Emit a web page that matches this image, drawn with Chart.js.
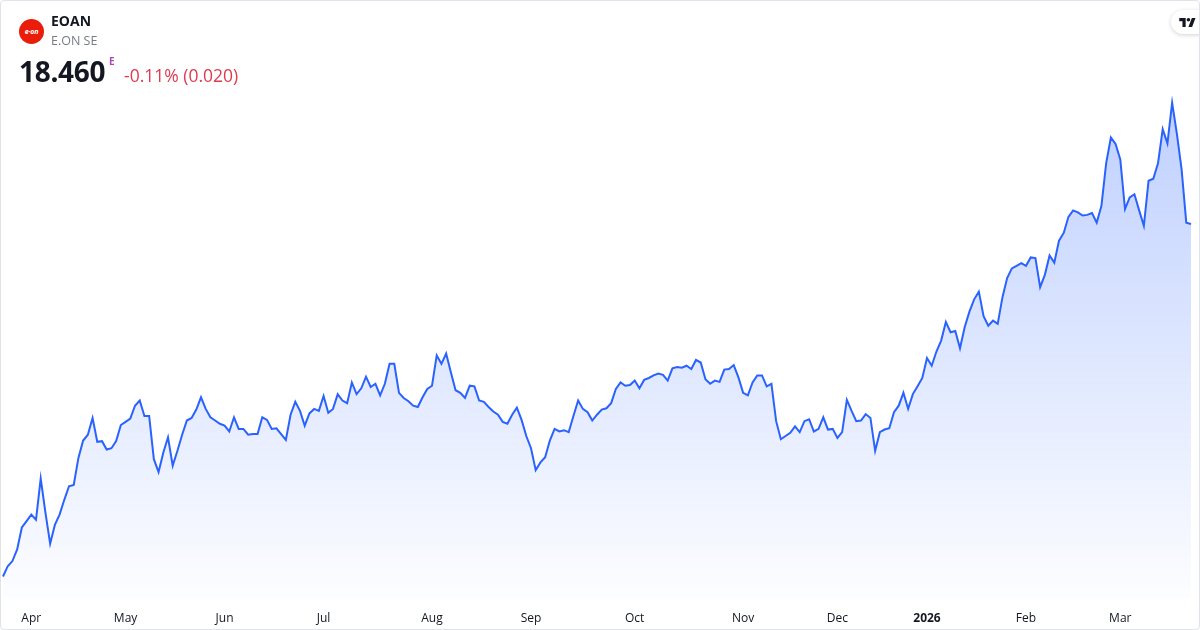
<!DOCTYPE html>
<html>
<head>
<meta charset="utf-8">
<script src="https://cdn.jsdelivr.net/npm/chart.js@4.4.1/dist/chart.umd.min.js"></script>
<style>
  html, body { margin: 0; padding: 0; background: #fff; }
  #wrap {
    position: relative; width: 1200px; height: 630px; box-sizing: border-box;
    border: 1px solid #e0e3eb; border-radius: 4px; overflow: hidden;
    font-family: "Open Sans", "Noto Sans", sans-serif; color: #131722;
  }
  #chart { position: absolute; left: -1px; top: -1px; }
  .abs { position: absolute; white-space: nowrap; }
  #logo {
    left: 18px; top: 18px; width: 25px; height: 25px; border-radius: 50%;
    background: #ea1c0a; color: #fff; font-size: 7px; font-weight: 700; font-style: italic;
    display: flex; align-items: center; justify-content: center; letter-spacing: -0.2px;
  }
  #ticker { left: 50px; top: 10px; font-size: 14px; font-weight: 700; }
  #name { left: 50px; top: 31px; font-size: 12.5px; color: #787b86; }
  #price { left: 18px; top: 51px; font-size: 28px; font-weight: 700; letter-spacing: -0.3px; }
  #exch { left: 108px; top: 53px; font-size: 10px; font-weight: 700; color: #ab47bc; }
  #change { left: 123px; top: 62px; font-size: 17.5px; color: #e03a4e; }
  #tv {
    right: -12px; top: 9px; width: 40px; height: 24px; border-radius: 12px; background: #fff;
    box-shadow: 0 1px 4px rgba(0,0,0,0.18);
  }
  #tv svg { position: absolute; left: 8px; top: 7px; }
</style>
</head>
<body>
<div id="wrap">
  <canvas id="chart" width="1200" height="630"></canvas>
  <div class="abs" id="logo">e·on</div>
  <div class="abs" id="ticker">EOAN</div>
  <div class="abs" id="name">E.ON SE</div>
  <div class="abs" id="price">18.460</div>
  <div class="abs" id="exch">E</div>
  <div class="abs" id="change">-0.11% (0.020)</div>
  <div class="abs" id="tv">
    <svg width="17" height="11" viewBox="0 0 36 24"><path d="M14 22H7V9H0V2h14v20zM28 22h-8l7.5-20h8L28 22z" fill="#131722"/><circle cx="20" cy="6" r="4" fill="#131722"/></svg>
  </div>
</div>
<script>
// daily closes, EUR, 24 Mar 2025 .. 23 Mar 2026
const closes = [
  12.99, 13.15, 13.23, 13.41, 13.75, 13.85, 13.95, 13.87, 14.51, 13.98,
  13.50, 13.79, 13.95, 14.18, 14.39, 14.41, 14.83, 15.10, 15.19, 15.45,
  15.08, 15.09, 14.96, 14.98, 15.09, 15.34, 15.39, 15.44, 15.64, 15.72,
  15.48, 15.48, 14.81, 14.61, 14.91, 15.15, 14.71, 14.94, 15.19, 15.41,
  15.45, 15.58, 15.77, 15.59, 15.46, 15.41, 15.36, 15.33, 15.24, 15.46,
  15.28, 15.28, 15.19, 15.20, 15.20, 15.46, 15.42, 15.28, 15.29, 15.20,
  15.11, 15.50, 15.70, 15.56, 15.33, 15.52, 15.59, 15.56, 15.79, 15.53,
  15.59, 15.82, 15.72, 15.68, 16.00, 15.82, 15.91, 16.09, 15.93, 15.98,
  15.80, 15.98, 16.29, 16.29, 15.84, 15.76, 15.71, 15.64, 15.62, 15.77,
  15.90, 15.95, 16.42, 16.29, 16.45, 16.16, 15.88, 15.84, 15.76, 15.95,
  15.94, 15.72, 15.70, 15.62, 15.55, 15.50, 15.39, 15.36, 15.50, 15.61,
  15.42, 15.17, 14.98, 14.64, 14.76, 14.84, 15.10, 15.28, 15.24, 15.26,
  15.23, 15.48, 15.72, 15.59, 15.54, 15.41, 15.50, 15.58, 15.60, 15.68,
  15.90, 16.00, 15.95, 15.96, 16.03, 15.91, 16.04, 16.07, 16.11, 16.14,
  16.12, 16.03, 16.22, 16.24, 16.23, 16.26, 16.21, 16.35, 16.31, 16.05,
  15.98, 16.03, 16.01, 16.20, 16.21, 16.27, 16.08, 15.84, 15.80, 16.00,
  16.11, 16.11, 15.94, 15.98, 15.40, 15.12, 15.17, 15.22, 15.32, 15.23,
  15.40, 15.43, 15.24, 15.28, 15.46, 15.27, 15.28, 15.14, 15.23, 15.73,
  15.56, 15.40, 15.41, 15.51, 15.45, 14.94, 15.23, 15.27, 15.29, 15.54,
  15.64, 15.84, 15.59, 15.82, 15.94, 16.07, 16.38, 16.26, 16.48, 16.65,
  16.94, 16.78, 16.80, 16.53, 16.86, 17.10, 17.29, 17.41, 17.03, 16.88,
  16.96, 16.91, 17.32, 17.62, 17.77, 17.81, 17.85, 17.81, 17.94, 17.93,
  17.48, 17.67, 17.97, 17.86, 18.20, 18.32, 18.57, 18.67, 18.64, 18.59,
  18.60, 18.63, 18.48, 18.74, 19.40, 19.80, 19.70, 19.46, 18.69, 18.87,
  18.92, 18.67, 18.43, 19.13, 19.16, 19.40, 19.93, 19.71, 20.34, 19.86,
  19.31, 18.48, 18.46
];

// first trading day of each month (index into closes) and its label
const monthStarts = [6, 26, 47, 68, 91, 112, 134, 157, 177, 196, 217, 237];
const monthNames = ['Apr', 'May', 'Jun', 'Jul', 'Aug', 'Sep', 'Oct', 'Nov', 'Dec', '2026', 'Feb', 'Mar'];

const xLabels = closes.map((_, i) => {
  const m = monthStarts.indexOf(i);
  return m >= 0 ? monthNames[m] : '';
});

function fillGradient(ctx) {
  const area = ctx.chart.chartArea;
  if (!area) return 'rgba(41,98,255,0.1)';
  const g = ctx.chart.ctx.createLinearGradient(0, area.top, 0, area.bottom);
  g.addColorStop(0, 'rgba(41,98,255,0.30)');
  g.addColorStop(1, 'rgba(41,98,255,0.01)');
  return g;
}

new Chart(document.getElementById('chart'), {
  type: 'line',
  data: {
    labels: xLabels,
    datasets: [{
      data: closes,
      borderColor: '#2962ff',
      borderWidth: 2,
      backgroundColor: fillGradient,
      fill: 'start',
      pointRadius: 0,
      tension: 0,
    }],
  },
  options: {
    responsive: false, animation: false,
    layout: { padding: { left: 3, right: 9, top: 95, bottom: 4 } },
    plugins: { legend: { display: false }, tooltip: { enabled: false } },
    scales: {
      x: {
        // transparent tick marks give the gap between plot and labels
        grid: { display: true, drawOnChartArea: false, drawTicks: true, tickLength: 12, color: 'rgba(0,0,0,0)' },
        border: { display: false },
        ticks: {
          autoSkip: false, maxRotation: 0, padding: 0, color: '#131722',
          font: ctx => ({ family: '"Open Sans", sans-serif', size: 12, weight: ctx.tick && ctx.tick.label === '2026' ? 'bold' : 'normal' }),
        },
      },
      y: { display: false, min: 12.632, max: 20.46 },
    },
  },
});
</script>
</body>
</html>
